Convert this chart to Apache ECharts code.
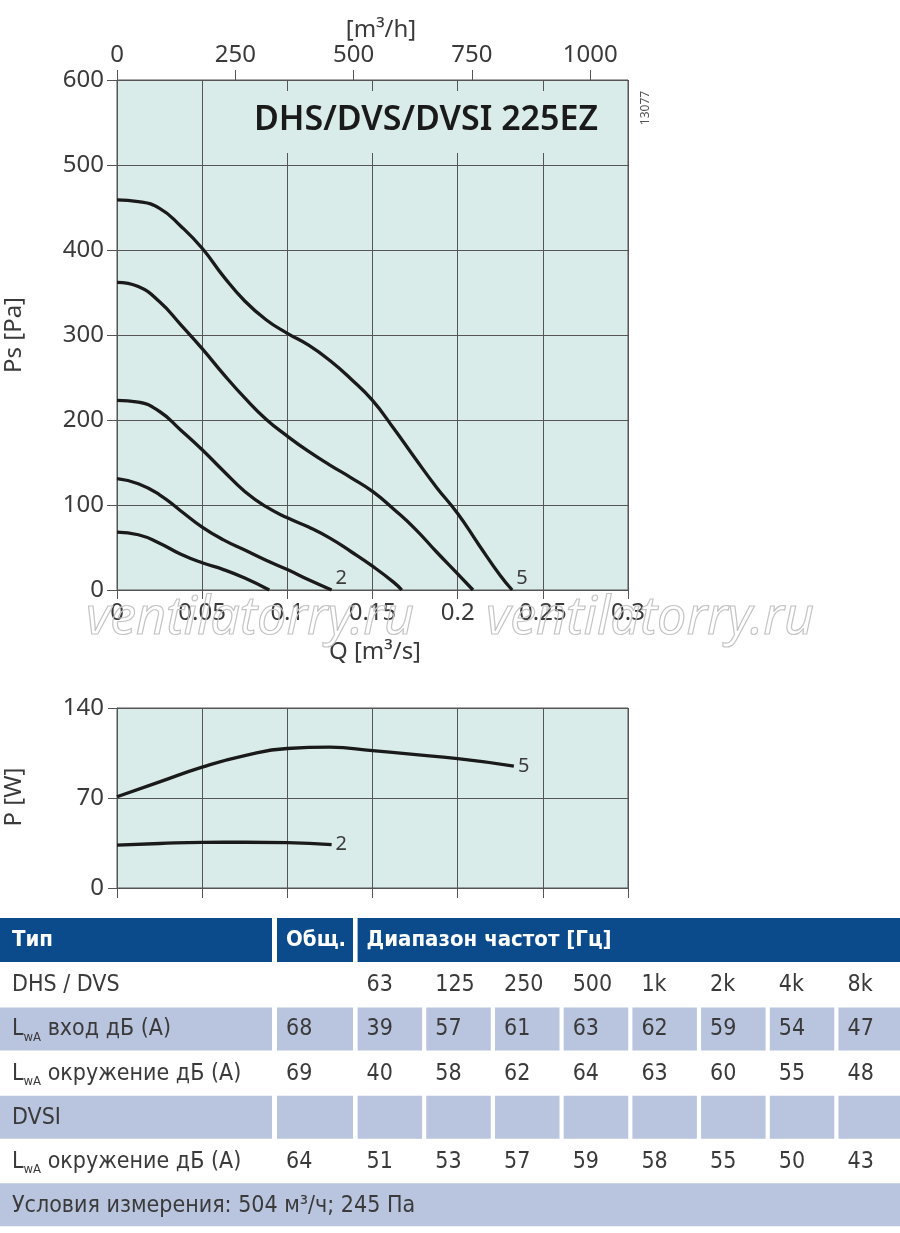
<!DOCTYPE html>
<html><head><meta charset="utf-8">
<script src="https://cdn.jsdelivr.net/npm/echarts@6/dist/echarts.min.js"></script>
<style>html,body{margin:0;padding:0;background:#fff}#c{width:900px;height:1233px}</style>
</head><body><div id="c"></div>
<script>
// ---- Pressure curves: Q [m3/s] vs Ps [Pa] ----
const q1 = [0, 0.0125, 0.025, 0.0375, 0.05, 0.0625, 0.075, 0.0894];
const ps1 = [68, 65, 55, 42, 32, 24, 14, 0];
const q2 = [0, 0.0125, 0.025, 0.0375, 0.05, 0.0625, 0.075, 0.0875, 0.1, 0.1125, 0.126];
const ps2 = [131, 125, 112, 93, 74, 59, 47, 35, 24, 12, 0];
const q3 = [0, 0.0125, 0.025, 0.0375, 0.05, 0.0625, 0.075, 0.0875, 0.1, 0.1125, 0.125, 0.1375, 0.15, 0.1625, 0.1672];
const ps3 = [223, 221, 210, 188, 165, 140, 116, 98, 85, 74, 61, 45, 28, 9, 0];
const q4 = [0, 0.0125, 0.025, 0.0375, 0.05, 0.0625, 0.075, 0.0875, 0.1, 0.1125, 0.125, 0.1375, 0.15, 0.1625, 0.175, 0.1875, 0.2, 0.209];
const ps4 = [362, 357, 339, 312, 284, 254, 226, 201, 181, 163, 147, 132, 116, 95, 72, 45, 19, 0];
const q5 = [0, 0.0125, 0.025, 0.0375, 0.05, 0.0625, 0.075, 0.0875, 0.1, 0.1125, 0.125, 0.1375, 0.15, 0.1625, 0.175, 0.1875, 0.2, 0.2125, 0.225, 0.232];
const ps5 = [459, 457, 449, 428, 402, 369, 340, 318, 302, 288, 270, 248, 223, 190, 155, 121, 90, 53, 17, 0];

// ---- Power curves: Q [m3/s] vs P [W] ----
const pq2 = [0, 0.025, 0.05, 0.075, 0.1, 0.126];
const pw2 = [33.4, 34.6, 35.5, 35.6, 35.3, 33.7];
const pq5 = [0, 0.025, 0.05, 0.075, 0.1, 0.125, 0.15, 0.2, 0.233];
const pw5 = [71, 82.5, 94, 103, 108.5, 109.5, 106.8, 100.6, 94.8];

// ---- Axis ticks ----
const qTicks = [0, 0.05, 0.1, 0.15, 0.2, 0.25, 0.3];
const m3hTicks = [0, 250, 500, 750, 1000];
const psTicks = [0, 100, 200, 300, 400, 500, 600];
const pTicks = [0, 70, 140];

// ---- Sound table ----
const headTitles = ['Тип', 'Общ.', 'Диапазон частот [Гц]'];
const freqLabels = ['63', '125', '250', '500', '1k', '2k', '4k', '8k'];
const inletTotal = 68;
const inletBands = [39, 57, 61, 63, 62, 59, 54, 47];
const surrTotal = 69;
const surrBands = [40, 58, 62, 64, 63, 60, 55, 48];
const dvsiTotal = 64;
const dvsiBands = [51, 53, 57, 59, 58, 55, 50, 43];
const footerText = 'Условия измерения: 504 м³/ч; 245 Па';

const FONT = "'Noto Sans', 'Open Sans', sans-serif";
const TFONT = "'DejaVu Sans Condensed', 'Liberation Sans Narrow', 'Noto Sans', sans-serif";
const BG = '#d9ecea';
const GRIDC = '#555';
const TXT = '#3a3a3a';

function pairs(xs, ys) { return xs.map((x, i) => [x, ys[i]]); }
function fmtQ(v) { return String(+v.toFixed(2)); }

const chart = echarts.init(document.getElementById('c'), null, {renderer: 'canvas'});

function curve(xIdx, yIdx, xs, ys, lbl, off, sm) {
  const s = {
    type: 'line', xAxisIndex: xIdx, yAxisIndex: yIdx,
    data: pairs(xs, ys), smooth: sm, showSymbol: false, symbol: 'none',
    lineStyle: {color: '#1a1a1a', width: 3.3}, z: 3, silent: true
  };
  if (lbl) {
    s.endLabel = {show: true, formatter: lbl, color: TXT, fontSize: 20, fontFamily: FONT, distance: 4, offset: off};
  }
  return s;
}

// ---- table graphics ----
const G = [];
const rowTop = i => 918 + i * 44.2;
const colL = [0, 277].concat(freqLabels.map((_, i) => 357.6 + i * 68.7));
const colR = [272, 353].concat(freqLabels.map((_, i) => i === 7 ? 900 : 357.6 + i * 68.7 + 64.5));
const HEAD = '#0b4a8b';
const ROWC = '#b9c4de';

[[0, 272], [277, 353], [357.6, 900]].forEach((c, i) => {
  G.push({type: 'rect', shape: {x: c[0], y: rowTop(0), width: c[1] - c[0], height: 44}, style: {fill: HEAD}});
  G.push({type: 'text', x: c[0] + (i === 0 ? 12 : 9), y: rowTop(0) + 22,
    style: {text: headTitles[i], fill: '#fff', font: '600 22px ' + TFONT, textVerticalAlign: 'middle'}});
});
function rowText(i, x, txt) {
  G.push({type: 'text', x: x, y: rowTop(i) + 23,
    style: {text: txt, fill: TXT, font: '23px ' + TFONT, textVerticalAlign: 'middle'}});
}
function lwaText(i, rest) {
  G.push({type: 'text', x: 12, y: rowTop(i) + 23,
    style: {text: '{a|L}{b|wA}{a| ' + rest + '}', fill: TXT, textVerticalAlign: 'middle',
      rich: {a: {fontSize: 23, fontFamily: TFONT, fill: TXT, verticalAlign: 'bottom'},
             b: {fontSize: 13, fontFamily: TFONT, fill: TXT, verticalAlign: 'bottom', padding: [0, 0, -3, 0]}}}});
}
function colorCells(i) {
  colL.forEach((l, k) => G.push({type: 'rect', shape: {x: l, y: rowTop(i) + 1, width: colR[k] - l, height: 43}, style: {fill: ROWC}}));
}
rowText(1, 12, 'DHS / DVS');
freqLabels.forEach((f, k) => rowText(1, colL[k + 2] + 9, f));
colorCells(2);
lwaText(2, 'вход дБ (А)');
rowText(2, colL[1] + 9, String(inletTotal));
inletBands.forEach((v, k) => rowText(2, colL[k + 2] + 9, String(v)));
lwaText(3, 'окружение дБ (А)');
rowText(3, colL[1] + 9, String(surrTotal));
surrBands.forEach((v, k) => rowText(3, colL[k + 2] + 9, String(v)));
colorCells(4);
rowText(4, 12, 'DVSI');
lwaText(5, 'окружение дБ (А)');
rowText(5, colL[1] + 9, String(dvsiTotal));
dvsiBands.forEach((v, k) => rowText(5, colL[k + 2] + 9, String(v)));
G.push({type: 'rect', shape: {x: 0, y: rowTop(6), width: 900, height: 43}, style: {fill: ROWC}});
rowText(6, 12, footerText);

// ---- chart decorations ----
G.push({type: 'rect', shape: {x: 250, y: 91, width: 355, height: 62}, style: {fill: BG}, z: 5});
G.push({type: 'text', x: 426, y: 120, z: 6,
  style: {text: 'DHS/DVS/DVSI 225EZ', fill: '#1a1a1a', font: '600 34px ' + FONT, textAlign: 'center', textVerticalAlign: 'middle'}});
G.push({type: 'text', x: 381, y: 30, style: {text: '[m³/h]', fill: TXT, font: '24px ' + FONT, textAlign: 'center', textVerticalAlign: 'middle'}});
G.push({type: 'text', x: 375, y: 652, style: {text: 'Q [m³/s]', fill: TXT, font: '24px ' + FONT, textAlign: 'center', textVerticalAlign: 'middle'}});
G.push({type: 'text', x: 14, y: 335, rotation: Math.PI / 2, style: {text: 'Ps [Pa]', fill: TXT, font: '24px ' + FONT, textAlign: 'center', textVerticalAlign: 'middle'}});
G.push({type: 'text', x: 14, y: 797, rotation: Math.PI / 2, style: {text: 'P [W]', fill: TXT, font: '24px ' + FONT, textAlign: 'center', textVerticalAlign: 'middle'}});
G.push({type: 'text', x: 646, y: 108, rotation: Math.PI / 2, style: {text: '13077', fill: '#555', font: '12px ' + FONT, textAlign: 'center', textVerticalAlign: 'middle'}});
[250, 650].forEach(cx => G.push({type: 'text', x: cx, y: 619, z: 20, silent: true,
  style: {text: 'ventilatorry.ru', fill: 'rgba(255,255,255,0)', stroke: '#c4c4c4', lineWidth: 1.2,
    font: 'italic 52px ' + FONT, textAlign: 'center', textVerticalAlign: 'middle'}}));

const axisTxt = {color: TXT, fontSize: 24, fontFamily: FONT};

chart.setOption({
  animation: false,
  backgroundColor: '#fff',
  grid: [
    {left: 117, top: 80, width: 511, height: 510, show: true, backgroundColor: BG, borderColor: GRIDC, borderWidth: 1},
    {left: 117, top: 708, width: 511, height: 180, show: true, backgroundColor: BG, borderColor: GRIDC, borderWidth: 1}
  ],
  xAxis: [
    {type: 'value', gridIndex: 0, position: 'bottom', min: qTicks[0], max: qTicks[qTicks.length - 1], interval: 0.05,
      axisLine: {show: true, lineStyle: {color: GRIDC}}, axisTick: {show: true, length: 9, lineStyle: {color: GRIDC}},
      axisLabel: Object.assign({margin: 11, formatter: fmtQ}, axisTxt),
      splitLine: {show: true, lineStyle: {color: GRIDC, width: 1}}},
    {type: 'value', gridIndex: 0, position: 'top', min: 0, max: 1080,
      axisLine: {show: false}, axisTick: {show: true, length: 10, customValues: m3hTicks, lineStyle: {color: GRIDC}},
      axisLabel: Object.assign({margin: 13, customValues: m3hTicks, formatter: v => String(v)}, axisTxt),
      splitLine: {show: false}},
    {type: 'value', gridIndex: 1, position: 'bottom', min: qTicks[0], max: qTicks[qTicks.length - 1], interval: 0.05,
      axisLine: {show: true, lineStyle: {color: GRIDC}}, axisTick: {show: true, length: 10, lineStyle: {color: GRIDC}},
      axisLabel: {show: false},
      splitLine: {show: true, lineStyle: {color: GRIDC, width: 1}}}
  ],
  yAxis: [
    {type: 'value', gridIndex: 0, min: psTicks[0], max: psTicks[psTicks.length - 1], interval: 100,
      axisLine: {show: true, lineStyle: {color: GRIDC}}, axisTick: {show: true, length: 10, lineStyle: {color: GRIDC}},
      axisLabel: Object.assign({margin: 13}, axisTxt),
      splitLine: {show: true, lineStyle: {color: GRIDC, width: 1}}},
    {type: 'value', gridIndex: 1, min: pTicks[0], max: pTicks[pTicks.length - 1], interval: 70,
      axisLine: {show: true, lineStyle: {color: GRIDC}}, axisTick: {show: true, length: 9, lineStyle: {color: GRIDC}},
      axisLabel: Object.assign({margin: 13}, axisTxt),
      splitLine: {show: true, lineStyle: {color: GRIDC, width: 1}}}
  ],
  series: [
    curve(0, 0, q1, ps1, null, null, 0.5),
    curve(0, 0, q2, ps2, '2', [0, -12], 0.5),
    curve(0, 0, q3, ps3, null, null, 0.5),
    curve(0, 0, q4, ps4, null, null, 0.5),
    curve(0, 0, q5, ps5, '5', [0, -12], 0.5),
    curve(2, 1, pq2, pw2, '2', [0, 0], 0.5),
    curve(2, 1, pq5, pw5, '5', [0, 0], 0.5)
  ],
  graphic: {elements: G}
});
</script></body></html>
